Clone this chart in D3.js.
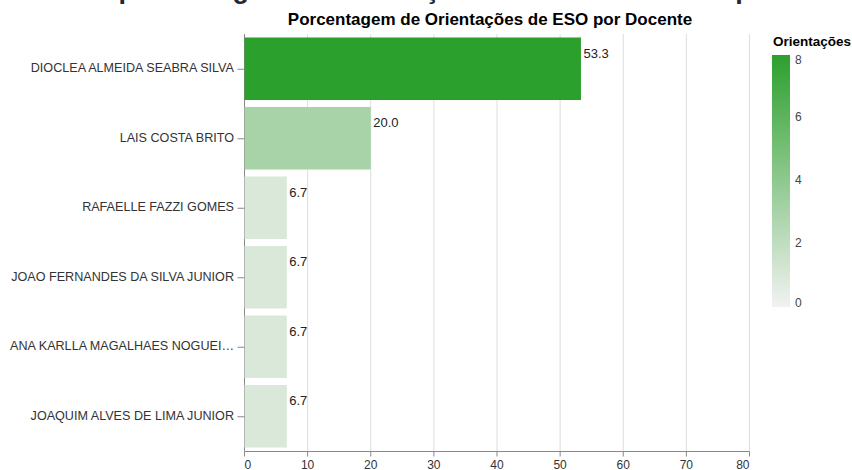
<!DOCTYPE html>
<html>
<head>
<meta charset="utf-8">
<script src="https://cdn.jsdelivr.net/npm/d3@7"></script>
<style>
  html, body { margin: 0; padding: 0; background: #fff; overflow: hidden; }
  svg { display: block; font-family: "Liberation Sans", Arial, sans-serif; }
</style>
</head>
<body>
<svg id="chart" width="852" height="470"></svg>
<script>
// ---- data ----
const docentes = [
  "DIOCLEA ALMEIDA SEABRA SILVA",
  "LAIS COSTA BRITO",
  "RAFAELLE FAZZI GOMES",
  "JOAO FERNANDES DA SILVA JUNIOR",
  "ANA KARLLA MAGALHAES NOGUEIRA",
  "JOAQUIM ALVES DE LIMA JUNIOR"
];
const orientacoes = [8, 3, 1, 1, 1, 1];
const porcentagens = [53.3, 20.0, 6.7, 6.7, 6.7, 6.7];
const xTicks = [0, 10, 20, 30, 40, 50, 60, 70, 80];
const legendTicks = [0, 2, 4, 6, 8];
const chartTitle = "Porcentagem de Orientações de ESO por Docente";
const pageHeader = "Análise da porcentagem de orientações de ESO realizadas por docente";
const legendTitle = "Orientações";

const data = docentes.map((d, i) => ({ nome: d, n: orientacoes[i], pct: porcentagens[i] }));

const svg = d3.select("#chart");

// ---- scales ----
const x = d3.scaleLinear().domain([0, 80]).range([244, 749]);
const y = d3.scaleBand().domain(docentes).range([34, 451]).paddingInner(0.1).paddingOuter(0.05);
const color = d3.scaleLinear().domain([0, 8]).range(["#f2f2f2", "#2ca02c"]).interpolate(d3.interpolateRgb);

// ---- page header (cut off at top, only descenders visible) ----
const hdr = svg.append("text")
  .attr("y", -2)
  .attr("font-size", 27)
  .attr("font-weight", "bold")
  .attr("fill", "#262730")
  .text(pageHeader);
const tmp = svg.append("text").attr("font-size", 27).attr("font-weight", "bold").text("Análise da ");
const prefixW = tmp.node().getComputedTextLength();
tmp.remove();
hdr.attr("x", 111 - prefixW);

// ---- grid ----
svg.append("g").selectAll("line").data(xTicks).join("line")
  .attr("x1", d => x(d) + 0.5).attr("x2", d => x(d) + 0.5)
  .attr("y1", 34).attr("y2", 451)
  .attr("stroke", "#ddd").attr("stroke-width", 1);

// ---- y domain (visible only between bars) ----
svg.append("line")
  .attr("x1", 244.5).attr("x2", 244.5).attr("y1", 34).attr("y2", 451)
  .attr("stroke", "#888");

// ---- bars ----
svg.append("g").selectAll("rect").data(data).join("rect")
  .attr("x", x(0) + 0.5)
  .attr("y", d => y(d.nome))
  .attr("width", d => x(d.pct) - x(0))
  .attr("height", y.bandwidth())
  .attr("fill", d => color(d.n));

// ---- value labels ----
svg.append("g").selectAll("text").data(data).join("text")
  .attr("x", d => x(d.pct) + 3)
  .attr("y", d => y(d.nome) + 17)
  .attr("dominant-baseline", "middle")
  .attr("font-size", 13)
  .attr("fill", "#222")
  .text(d => d.pct.toFixed(1));

// ---- x axis ----
const xAxis = svg.append("g").attr("transform", "translate(0.5,451.5)");
xAxis.append("line").attr("x1", x(0)).attr("x2", x(80)).attr("stroke", "#888");
xAxis.selectAll("line.tick").data(xTicks).join("line").attr("class", "tick")
  .attr("x1", d => x(d)).attr("x2", d => x(d)).attr("y1", 0).attr("y2", 5)
  .attr("stroke", "#888");
xAxis.selectAll("text").data(xTicks).join("text")
  .attr("x", d => x(d))
  .attr("y", 17)
  .attr("text-anchor", (d, i) => i === 0 ? "start" : (i === xTicks.length - 1 ? "end" : "middle"))
  .attr("font-size", 12)
  .attr("fill", "#333")
  .text(d => d);

// ---- y axis ----
const yAxis = svg.append("g");
yAxis.selectAll("line").data(docentes).join("line")
  .attr("x1", 237.5).attr("x2", 244.5)
  .attr("y1", d => y(d) + y.bandwidth() / 2 + 0.5).attr("y2", d => y(d) + y.bandwidth() / 2 + 0.5)
  .attr("stroke", "#888");
yAxis.selectAll("text").data(docentes).join("text")
  .attr("x", 234)
  .attr("y", d => y(d) + y.bandwidth() / 2)
  .attr("dominant-baseline", "middle")
  .attr("text-anchor", "end")
  .attr("font-size", 12.6)
  .attr("fill", "#333")
  .each(function(d) {
    const el = d3.select(this);
    el.text(d);
    const limit = 226;
    if (this.getComputedTextLength() > limit) {
      let s = d;
      while (s.length > 0) {
        s = s.slice(0, -1);
        el.text(s + "…");
        if (this.getComputedTextLength() <= limit) break;
      }
    }
  });

// ---- chart title ----
svg.append("text")
  .attr("x", 490).attr("y", 25)
  .attr("text-anchor", "middle")
  .attr("font-size", 17)
  .attr("font-weight", "bold")
  .attr("fill", "#000")
  .text(chartTitle);

// ---- legend ----
const lg = svg.append("g");
lg.append("text").attr("x", 773).attr("y", 46)
  .attr("font-size", 13.5).attr("font-weight", "bold").attr("fill", "#000")
  .text(legendTitle);
const defs = svg.append("defs");
const grad = defs.append("linearGradient").attr("id", "lg").attr("x1", 0).attr("y1", 1).attr("x2", 0).attr("y2", 0);
d3.range(0, 1.0001, 0.1).forEach(t => {
  grad.append("stop").attr("offset", t).attr("stop-color", color(t * 8));
});
const ly = d3.scaleLinear().domain([0, 8]).range([307, 55]);
lg.append("rect").attr("x", 772).attr("y", 55).attr("width", 18).attr("height", 252)
  .attr("fill", "url(#lg)");
lg.selectAll("text.lab").data(legendTicks).join("text").attr("class", "lab")
  .attr("x", 795)
  .attr("y", d => ly(d))
  .attr("dominant-baseline", (d, i) => i === 0 ? "auto" : (i === legendTicks.length - 1 ? "hanging" : "middle"))
  .attr("font-size", 12)
  .attr("fill", "#444")
  .text(d => d);
</script>
</body>
</html>
